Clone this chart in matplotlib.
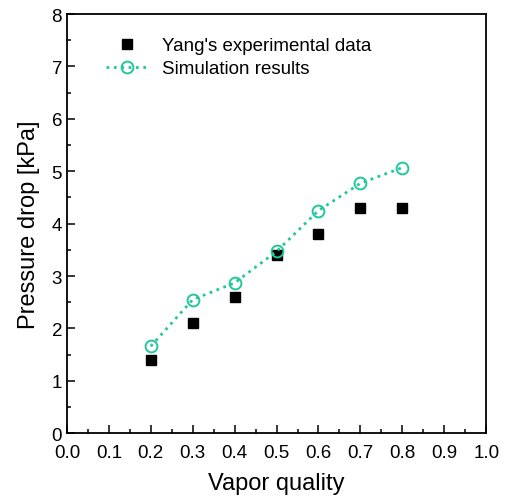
import matplotlib

matplotlib.use("Agg")

import matplotlib.pyplot as plt
from matplotlib.ticker import MultipleLocator

plt.rcParams["font.family"] = ["Liberation Sans", "DejaVu Sans"]

quality = [0.2, 0.3, 0.4, 0.5, 0.6, 0.7, 0.8]
experiment = [1.4, 2.1, 2.6, 3.4, 3.8, 4.3, 4.3]
simulation = [1.66, 2.55, 2.87, 3.47, 4.25, 4.77, 5.07]

fig = plt.figure(figsize=(5.07, 5.02), dpi=100)
ax = fig.add_axes([0.132, 0.135, 0.827, 0.835])

ax.plot(quality, experiment, "s", color="black", markersize=7.5,
        linestyle="none", label="Yang's experimental data")
ax.plot(quality, simulation, linestyle=":", linewidth=2, color="#22c79b",
        marker="o", markersize=8.5, markerfacecolor="none", markeredgewidth=1.4,
        label="Simulation results")

ax.set_xlim(0, 1.0)
ax.set_ylim(0, 8)
ax.xaxis.set_major_locator(MultipleLocator(0.1))
ax.xaxis.set_minor_locator(MultipleLocator(0.05))
ax.yaxis.set_major_locator(MultipleLocator(1))
ax.yaxis.set_minor_locator(MultipleLocator(0.5))
ax.tick_params(which="both", direction="in", width=1.1, labelsize=13.5)
ax.tick_params(which="major", length=6)
ax.tick_params(which="minor", length=3)
ax.tick_params(axis="x", pad=8)
for spine in ax.spines.values():
    spine.set_linewidth(1.3)

ax.set_xlabel("Vapor quality", fontsize=17, labelpad=8)
ax.set_ylabel("Pressure drop [kPa]", fontsize=17, labelpad=8)

ax.legend(loc="upper left", bbox_to_anchor=(0.053, 0.985), frameon=False,
          fontsize=13.5, handlelength=2.2, handletextpad=0.8, labelspacing=0.3)

fig.savefig("out.png", dpi=100)
